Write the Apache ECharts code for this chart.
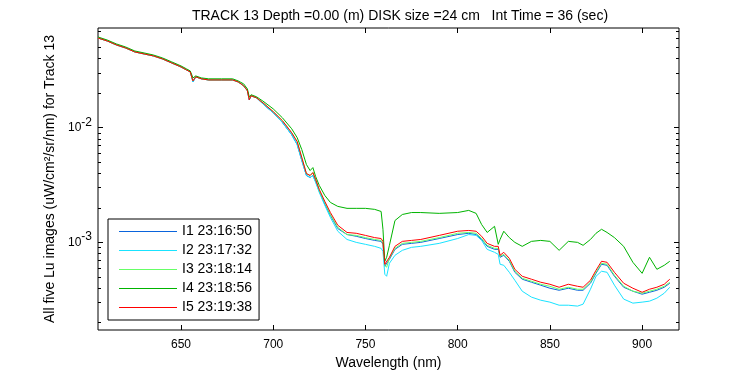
<!DOCTYPE html>
<html>
<head>
<meta charset="utf-8">
<script src="https://cdn.jsdelivr.net/npm/echarts@6/dist/echarts.min.js"></script>
<style>
html, body { margin: 0; padding: 0; background: #fff; }
#chart { width: 750px; height: 375px; }
</style>
</head>
<body>
<div id="chart"></div>
<script>
// wavelength samples (nm)
const wavelength = [605, 610, 615, 620, 625, 630, 635, 640, 645, 650,
    653, 655, 656.5, 658, 661, 665, 672, 678, 681, 684,
    686, 687, 688, 691, 695, 700, 705, 710, 713, 715.5,
    718, 720, 721.5, 723, 725, 728, 731, 735, 740, 745,
    750, 755, 758.5, 759.5, 760.5, 761.5, 763, 766, 770, 775,
    780, 790, 800, 806, 810, 813, 816, 820, 822, 823,
    825, 828, 831, 835, 840, 845, 850, 855, 860, 865,
    868, 872, 875, 878, 881, 885, 890, 895, 900, 904,
    908, 912, 915];

const seriesNames = ['I1 23:16:50', 'I2 23:17:32', 'I3 23:18:14', 'I4 23:18:56', 'I5 23:19:38'];
const seriesColors = ['#0a64dc', '#19e3ff', '#66ff66', '#00b400', '#ff0000'];

const lu1 = [0.0606, 0.0571, 0.0527, 0.0496, 0.0458, 0.0440, 0.0423, 0.0398, 0.0367, 0.0339,
    0.0319, 0.0307, 0.0251, 0.0278, 0.0267, 0.0261, 0.0261, 0.0261, 0.0251, 0.0232,
    0.0210, 0.0175, 0.0190, 0.0182, 0.0158, 0.0135, 0.0111, 0.00869, 0.00712, 0.00517,
    0.00383, 0.00368, 0.00383, 0.00339, 0.00278, 0.00214, 0.00172, 0.00132, 0.00117, 0.00113,
    0.00108, 0.00104, 0.00102, 0.000961, 0.000619, 0.000606, 0.000711, 0.000869, 0.000961, 0.000980,
    0.00100, 0.00108, 0.00117, 0.00120, 0.00117, 0.00106, 0.000923, 0.000869, 0.000869, 0.000741,
    0.000771, 0.000684, 0.000548, 0.000477, 0.000449, 0.000423, 0.000398, 0.000382, 0.000398, 0.000382,
    0.000382, 0.000440, 0.000537, 0.000644, 0.000631, 0.000506, 0.000406, 0.000375, 0.000353, 0.000367,
    0.000382, 0.000406, 0.000440];

const lu2 = [0.0606, 0.0571, 0.0527, 0.0496, 0.0458, 0.0440, 0.0423, 0.0398, 0.0367, 0.0339,
    0.0319, 0.0307, 0.0251, 0.0278, 0.0267, 0.0261, 0.0261, 0.0261, 0.0251, 0.0232,
    0.0210, 0.0175, 0.0190, 0.0182, 0.0158, 0.0135, 0.0111, 0.00869, 0.00712, 0.00517,
    0.00383, 0.00368, 0.00383, 0.00333, 0.00272, 0.00210, 0.00165, 0.00125, 0.00106, 0.00100,
    0.000961, 0.000923, 0.000887, 0.000835, 0.000527, 0.000506, 0.000657, 0.000771, 0.000852, 0.000905,
    0.000923, 0.000980, 0.00108, 0.00117, 0.00115, 0.00104, 0.000869, 0.000819, 0.000786, 0.000644,
    0.000631, 0.000548, 0.000467, 0.000375, 0.000333, 0.000313, 0.000301, 0.000283, 0.000283, 0.000278,
    0.000289, 0.000390, 0.000506, 0.000560, 0.000548, 0.000423, 0.000320, 0.000295, 0.000301, 0.000307,
    0.000326, 0.000360, 0.000406];

const lu3 = [0.0606, 0.0571, 0.0527, 0.0496, 0.0458, 0.0440, 0.0423, 0.0398, 0.0367, 0.0339,
    0.0319, 0.0307, 0.0256, 0.0278, 0.0267, 0.0261, 0.0261, 0.0261, 0.0251, 0.0232,
    0.0210, 0.0179, 0.0190, 0.0182, 0.0162, 0.0138, 0.0115, 0.00905, 0.00755, 0.00548,
    0.00398, 0.00383, 0.00406, 0.00353, 0.00283, 0.00223, 0.00175, 0.00135, 0.00117, 0.00115,
    0.00110, 0.00106, 0.00104, 0.000980, 0.000631, 0.000606, 0.000726, 0.000887, 0.000980, 0.00100,
    0.00102, 0.00110, 0.00120, 0.00122, 0.00120, 0.00108, 0.000942, 0.000887, 0.000887, 0.000755,
    0.000786, 0.000697, 0.000560, 0.000486, 0.000458, 0.000431, 0.000414, 0.000390, 0.000406, 0.000390,
    0.000390, 0.000449, 0.000548, 0.000657, 0.000644, 0.000516, 0.000414, 0.000375, 0.000360, 0.000375,
    0.000390, 0.000414, 0.000449];

const lu4 = [0.0619, 0.0582, 0.0538, 0.0506, 0.0467, 0.0449, 0.0431, 0.0406, 0.0375, 0.0346,
    0.0326, 0.0313, 0.0272, 0.0283, 0.0272, 0.0267, 0.0267, 0.0267, 0.0256, 0.0241,
    0.0218, 0.0186, 0.0194, 0.0186, 0.0168, 0.0146, 0.0122, 0.00980, 0.00819, 0.00644,
    0.00477, 0.00423, 0.00449, 0.00375, 0.00313, 0.00256, 0.00223, 0.00206, 0.00198, 0.00198,
    0.00198, 0.00194, 0.00186, 0.00130, 0.000684, 0.000741, 0.000942, 0.00155, 0.00175, 0.00182,
    0.00182, 0.00179, 0.00182, 0.00190, 0.00179, 0.00143, 0.00122, 0.00138, 0.000961, 0.00106,
    0.00125, 0.00110, 0.00100, 0.000923, 0.00102, 0.00104, 0.00102, 0.000852, 0.00102, 0.00100,
    0.000942, 0.00106, 0.00120, 0.00130, 0.00122, 0.00110, 0.000923, 0.000670, 0.000537, 0.000741,
    0.000582, 0.000631, 0.000684];

const lu5 = [0.0606, 0.0571, 0.0527, 0.0496, 0.0458, 0.0440, 0.0423, 0.0398, 0.0367, 0.0339,
    0.0319, 0.0307, 0.0256, 0.0278, 0.0267, 0.0261, 0.0261, 0.0261, 0.0251, 0.0232,
    0.0210, 0.0175, 0.0190, 0.0182, 0.0162, 0.0138, 0.0115, 0.00905, 0.00755, 0.00548,
    0.00398, 0.00383, 0.00406, 0.00353, 0.00289, 0.00227, 0.00182, 0.00141, 0.00122, 0.00120,
    0.00115, 0.00110, 0.00108, 0.00102, 0.000644, 0.000619, 0.000741, 0.000923, 0.00102, 0.00104,
    0.00106, 0.00115, 0.00125, 0.00127, 0.00125, 0.00113, 0.000980, 0.000923, 0.000923, 0.000771,
    0.000819, 0.000726, 0.000582, 0.000506, 0.000477, 0.000449, 0.000431, 0.000406, 0.000431, 0.000414,
    0.000406, 0.000467, 0.000571, 0.000684, 0.000670, 0.000548, 0.000440, 0.000398, 0.000367, 0.000390,
    0.000406, 0.000431, 0.000477];

const xTicks = [650, 700, 750, 800, 850, 900];
const yMajor = [0.001, 0.01];
const yMinor = [0.0002, 0.0003, 0.0004, 0.0005, 0.0006, 0.0007, 0.0008, 0.0009,
    0.002, 0.003, 0.004, 0.005, 0.006, 0.007, 0.008, 0.009,
    0.02, 0.03, 0.04, 0.05, 0.06, 0.07];

const X_MIN = 605, X_MAX = 920;
const Y_MIN = 0.000172, Y_MAX = 0.0741;
const FONT = "'Liberation Sans', Arial, sans-serif";

const chart = echarts.init(document.getElementById('chart'), null, { renderer: 'canvas' });

const allData = [lu1, lu2, lu3, lu4, lu5];

// x axis with labels, plus a mirrored one on top for the box ticks
const xAxisBase = {
    type: 'value',
    min: X_MIN,
    max: X_MAX,
    axisLine: { show: false },
    splitLine: { show: false },
    axisTick: { show: true, inside: true, length: 5, customValues: xTicks, lineStyle: { color: '#000' } }
};

const yAxisBase = {
    type: 'log',
    logBase: 10,
    min: Y_MIN,
    max: Y_MAX,
    axisLine: { show: false },
    splitLine: { show: false },
    minorTick: { show: false },
    axisLabel: { show: false }
};

const option = {
    animation: false,
    backgroundColor: '#fff',
    textStyle: { fontFamily: FONT },
    title: {
        text: 'TRACK 13 Depth =0.00 (m) DISK size =24 cm   Int Time = 36 (sec)',
        left: 395,
        top: 4,
        textAlign: 'center',
        textStyle: { fontSize: 14, fontWeight: 'normal', color: '#000', fontFamily: FONT }
    },
    legend: {
        data: seriesNames.map((name, k) => ({
            name: name,
            itemStyle: { color: seriesColors[k], borderWidth: 0, opacity: 1 }
        })),
        icon: 'rect',
        orient: 'vertical',
        left: 108,
        top: 219,
        padding: [5, 7, 5, 11],
        itemWidth: 58,
        itemHeight: 1,
        itemGap: 4,
        backgroundColor: '#fff',
        borderColor: '#000',
        borderWidth: 1,
        borderRadius: 0,
        textStyle: { fontSize: 14, color: '#000', fontFamily: FONT, lineHeight: 15 }
    },
    grid: {
        left: 98,
        right: 71,
        top: 28,
        bottom: 44,
        show: true,
        borderColor: '#000',
        borderWidth: 1,
        backgroundColor: '#fff'
    },
    xAxis: [
        Object.assign({}, xAxisBase, {
            position: 'bottom',
            name: 'Wavelength (nm)',
            nameLocation: 'middle',
            nameGap: 26,
            nameTextStyle: { fontSize: 14, color: '#000', fontFamily: FONT },
            axisLabel: { customValues: xTicks, color: '#000', fontSize: 12, margin: 9, fontFamily: FONT }
        }),
        Object.assign({}, xAxisBase, {
            position: 'top',
            axisLabel: { show: false }
        })
    ],
    yAxis: [
        Object.assign({}, yAxisBase, {
            position: 'left',
            name: 'All five Lu images (uW/cm\u00b2/sr/nm) for Track 13',
            nameLocation: 'middle',
            nameGap: 41,
            nameRotate: 90,
            nameTextStyle: { fontSize: 14, color: '#000', fontFamily: FONT },
            axisTick: { show: true, inside: true, length: 5, customValues: yMajor, lineStyle: { color: '#000' } },
            axisLabel: {
                show: true,
                customValues: yMajor,
                margin: 6,
                formatter: v => '{b|10}{s|' + Math.round(Math.log10(v)) + '}',
                rich: {
                    b: { fontSize: 12, color: '#000', fontFamily: FONT },
                    s: { fontSize: 12, color: '#000', fontFamily: FONT, padding: [0, 0, 11, 0] }
                }
            }
        }),
        Object.assign({}, yAxisBase, {
            position: 'left',
            axisTick: { show: true, inside: true, length: 3, customValues: yMinor, lineStyle: { color: '#000' } }
        }),
        Object.assign({}, yAxisBase, {
            position: 'right',
            axisTick: { show: true, inside: true, length: 5, customValues: yMajor, lineStyle: { color: '#000' } }
        }),
        Object.assign({}, yAxisBase, {
            position: 'right',
            axisTick: { show: true, inside: true, length: 3, customValues: yMinor, lineStyle: { color: '#000' } }
        })
    ],
    series: seriesNames.map((name, k) => ({
        name: name,
        type: 'line',
        xAxisIndex: 0,
        yAxisIndex: 0,
        symbol: 'none',
        showSymbol: false,
        color: seriesColors[k],
        itemStyle: { color: seriesColors[k] },
        lineStyle: { color: seriesColors[k], width: 1 },
        data: wavelength.map((w, i) => [w, allData[k][i]])
    }))
};

chart.setOption(option);
</script>
</body>
</html>
